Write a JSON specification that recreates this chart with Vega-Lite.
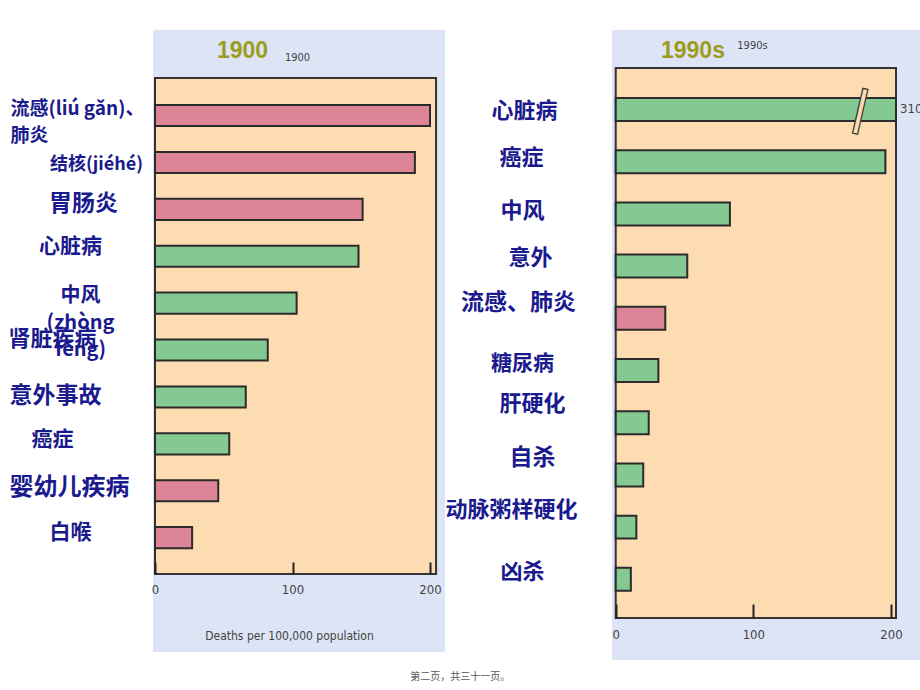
{
  "$schema": "https://vega.github.io/schema/vega-lite/v6.json",
  "autosize": {"type": "pad"},
  "padding": {"left": 7, "top": 30, "right": 0, "bottom": 0},
  "background": "white",
  "datasets": {
    "y1900": [
      {"cause": "流感(liú gǎn)、\n肺炎", "deaths": 200, "kind": "传染病"},
      {"cause": "结核(jiéhé)", "deaths": 189, "kind": "传染病"},
      {"cause": "胃肠炎", "deaths": 151, "kind": "传染病"},
      {"cause": "心脏病", "deaths": 148, "kind": "非传染病"},
      {"cause": "中风\n(zhòng\nfēng)", "deaths": 103, "kind": "非传染病"},
      {"cause": "肾脏疾病", "deaths": 82, "kind": "非传染病"},
      {"cause": "意外事故", "deaths": 66, "kind": "非传染病"},
      {"cause": "癌症", "deaths": 54, "kind": "非传染病"},
      {"cause": "婴幼儿疾病", "deaths": 46, "kind": "传染病"},
      {"cause": "白喉", "deaths": 27, "kind": "传染病"}
    ],
    "y1990s": [
      {"cause": "心脏病", "deaths": 310, "kind": "非传染病"},
      {"cause": "癌症", "deaths": 196, "kind": "非传染病"},
      {"cause": "中风", "deaths": 83, "kind": "非传染病"},
      {"cause": "意外", "deaths": 52, "kind": "非传染病"},
      {"cause": "流感、肺炎", "deaths": 36, "kind": "传染病"},
      {"cause": "糖尿病", "deaths": 31, "kind": "非传染病"},
      {"cause": "肝硬化", "deaths": 24, "kind": "非传染病"},
      {"cause": "自杀", "deaths": 20, "kind": "非传染病"},
      {"cause": "动脉粥样硬化", "deaths": 15, "kind": "非传染病"},
      {"cause": "凶杀", "deaths": 11, "kind": "非传染病"}
    ]
  },
  "title": {"text": "第二页，共三十一页。", "orient": "bottom", "anchor": "middle", "offset": 12, "dx": -5, "fontSize": 10, "fontWeight": "normal", "color": "#555555", "font": "Noto Sans CJK SC"},
  "spacing": 167,
  "bounds": "flush",
  "hconcat": [
    {
      "width": 292,
      "height": 622,
      "title": {"text": "1900", "frame": "group", "anchor": "start", "dx": 64, "offset": -33, "fontSize": 23, "fontWeight": "bold", "color": "#9C9C22", "font": "Liberation Sans"},
      "layer": [
        {
          "data": {"values": [{}]},
          "mark": {"type": "rect", "fill": "#FDDCB2", "stroke": "#333333", "strokeWidth": 2},
          "encoding": {
            "x": {"datum": 0, "type": "quantitative", "scale": {"domain": [-1.45, 210.9], "nice": false, "zero": false},
              "axis": {"orient": "top", "labels": false, "ticks": false, "domain": false, "grid": false, "title": "1900", "titleFont": "DejaVu Sans Condensed, Liberation Sans, sans-serif", "titleFontSize": 11, "titleFontWeight": "normal", "titleColor": "#444444", "titleX": 144, "titleY": 27, "titleBaseline": "middle", "titleAlign": "center"}},
            "x2": {"datum": 204.4},
            "y": {"datum": 0, "type": "quantitative", "scale": {"domain": [-0.1573, 1.0968], "nice": false, "zero": false}, "axis": null},
            "y2": {"datum": 1}
          }
        },
        {
          "data": {"name": "y1900"},
          "mark": {"type": "bar", "stroke": "#2b2b2b", "strokeWidth": 2},
          "encoding": {
            "y": {"field": "cause", "type": "nominal", "sort": null,
              "scale": {"paddingInner": 0.55, "paddingOuter": 0, "range": [75, 518.2]},
              "axis": {"orient": "left", "domain": false, "ticks": false, "grid": false, "title": null, "labelOverlap": false, "labelLimit": 300,
                "labelExpr": "split(datum.label, '\\n')",
                "labelFont": "Noto Sans CJK SC", "labelFontWeight": "bold", "labelColor": "#1A1A8E", "labelLineHeight": 27,
                "labelAlign": {"condition": {"test": "indexof(datum.value, '流感') >= 0", "value": "left"}, "value": "center"},
                "labelFontSize": {"condition": [
                  {"test": "indexof(datum.value, '流感') >= 0", "value": 19},
                  {"test": "indexof(datum.value, '结核') >= 0", "value": 18},
                  {"test": "datum.value === '胃肠炎'", "value": 23},
                  {"test": "indexof(datum.value, '中风') >= 0", "value": 20},
                  {"test": "datum.value === '肾脏疾病'", "value": 22},
                  {"test": "datum.value === '意外事故'", "value": 23},
                  {"test": "datum.value === '婴幼儿疾病'", "value": 24}
                ], "value": 21},
                "labelPadding": {"condition": [
                  {"test": "indexof(datum.value, '流感') >= 0", "value": 143},
                  {"test": "indexof(datum.value, '结核') >= 0", "value": 57},
                  {"test": "datum.value === '胃肠炎'", "value": 70},
                  {"test": "indexof(datum.value, '中风') >= 0", "value": 73},
                  {"test": "datum.value === '肾脏疾病'", "value": 101},
                  {"test": "datum.value === '意外事故'", "value": 98},
                  {"test": "datum.value === '癌症'", "value": 101},
                  {"test": "datum.value === '婴幼儿疾病'", "value": 84}
                ], "value": 83},
                "labelOffset": {"condition": [
                  {"test": "indexof(datum.value, '流感') >= 0", "value": -7},
                  {"test": "indexof(datum.value, '结核') >= 0", "value": 3},
                  {"test": "datum.value === '胃肠炎'", "value": -5},
                  {"test": "datum.value === '心脏病'", "value": -9},
                  {"test": "indexof(datum.value, '中风') >= 0", "value": -7},
                  {"test": "datum.value === '肾脏疾病'", "value": -11},
                  {"test": "datum.value === '意外事故'", "value": -1},
                  {"test": "datum.value === '癌症'", "value": -4},
                  {"test": "datum.value === '婴幼儿疾病'", "value": -3}
                ], "value": -5}
              }},
            "x": {"field": "deaths", "type": "quantitative", "scale": {"domain": [-1.45, 210.9], "nice": false, "zero": false},
              "axis": {"orient": "bottom", "zindex": 1, "offset": -90, "values": [0, 100, 200], "domain": false, "grid": false, "tickSize": 12, "tickWidth": 2, "tickColor": "#222222", "labelPadding": 9, "labelFlush": false, "labelFont": "DejaVu Sans Condensed, Liberation Sans, sans-serif", "labelFontSize": 13, "labelColor": "#444444",
                "title": "Deaths per 100,000 population", "titleFont": "DejaVu Sans Condensed, Liberation Sans, sans-serif", "titleFontSize": 12, "titleFontWeight": "normal", "titleColor": "#444444", "titleX": 136, "titleY": 73, "titleBaseline": "middle", "titleAlign": "center"}},
            "color": {"field": "kind", "type": "nominal", "scale": {"domain": ["传染病", "非传染病"], "range": ["#DD8496", "#84C892"]}, "legend": null}
          }
        }
      ],
      "resolve": {"scale": {"x": "independent", "y": "independent"}}
    },
    {
      "width": 308,
      "height": 630,
      "title": {"text": "1990s", "frame": "group", "anchor": "start", "dx": 49, "offset": -33, "fontSize": 23, "fontWeight": "bold", "color": "#9C9C22", "font": "Liberation Sans"},
      "layer": [
        {
          "data": {"values": [{}]},
          "mark": {"type": "rect", "fill": "#FDDCB2", "stroke": "#333333", "strokeWidth": 2},
          "encoding": {
            "x": {"datum": 0, "type": "quantitative", "scale": {"domain": [-2.7, 203.7], "range": [0, 284], "nice": false, "zero": false},
              "axis": {"orient": "top", "labels": false, "ticks": false, "domain": false, "grid": false, "title": "1990s", "titleFont": "DejaVu Sans Condensed, Liberation Sans, sans-serif", "titleFontSize": 11, "titleFontWeight": "normal", "titleColor": "#444444", "titleX": 140, "titleY": 15, "titleBaseline": "middle", "titleAlign": "center"}},
            "x2": {"datum": 203.7},
            "y": {"datum": 0, "type": "quantitative", "scale": {"domain": [-0.0764, 1.0691], "nice": false, "zero": false}, "axis": null},
            "y2": {"datum": 1}
          }
        },
        {
          "data": {"name": "y1990s"},
          "encoding": {
            "y": {"field": "cause", "type": "nominal", "sort": null,
              "scale": {"paddingInner": 0.56, "paddingOuter": 0, "range": [68, 560.8]},
              "axis": {"orient": "left", "domain": false, "ticks": false, "grid": false, "title": null, "labelOverlap": false, "labelLimit": 300,
                "labelFont": "Noto Sans CJK SC", "labelFontWeight": "bold", "labelColor": "#1A1A8E", "labelAlign": "center",
                "labelFontSize": {"condition": [
                  {"test": "datum.value === '流感、肺炎'", "value": 23},
                  {"test": "datum.value === '糖尿病'", "value": 21},
                  {"test": "datum.value === '自杀'", "value": 23}
                ], "value": 22},
                "labelPadding": {"condition": [
                  {"test": "datum.value === '心脏病'", "value": 88},
                  {"test": "datum.value === '癌症'", "value": 91},
                  {"test": "datum.value === '意外'", "value": 82},
                  {"test": "datum.value === '流感、肺炎'", "value": 94},
                  {"test": "datum.value === '肝硬化'", "value": 80},
                  {"test": "datum.value === '自杀'", "value": 80},
                  {"test": "datum.value === '动脉粥样硬化'", "value": 101}
                ], "value": 90},
                "labelOffset": {"condition": [
                  {"test": "datum.value === '心脏病'", "value": 2},
                  {"test": "datum.value === '癌症'", "value": -4},
                  {"test": "datum.value === '中风'", "value": -3},
                  {"test": "datum.value === '意外'", "value": -8},
                  {"test": "datum.value === '流感、肺炎'", "value": -15},
                  {"test": "datum.value === '肝硬化'", "value": -19},
                  {"test": "datum.value === '自杀'", "value": -17},
                  {"test": "datum.value === '动脉粥样硬化'", "value": -17}
                ], "value": -7}
              }},
            "x": {"field": "deaths", "type": "quantitative", "scale": {"domain": [-2.7, 203.7], "range": [0, 284], "clamp": true, "nice": false, "zero": false},
              "axis": {"orient": "bottom", "zindex": 1, "offset": -56, "values": [0, 100, 200], "domain": false, "grid": false, "tickSize": 14, "tickWidth": 2, "tickColor": "#222222", "labelPadding": 10, "labelFlush": false, "labelFont": "DejaVu Sans Condensed, Liberation Sans, sans-serif", "labelFontSize": 13, "labelColor": "#444444", "title": null}}
          },
          "layer": [
            {
              "mark": {"type": "bar", "stroke": "#2b2b2b", "strokeWidth": 2},
              "encoding": {
                "color": {"field": "kind", "type": "nominal", "scale": {"domain": ["传染病", "非传染病"], "range": ["#DD8496", "#84C892"]}, "legend": null}
              }
            },
            {
              "mark": {"type": "text", "font": "DejaVu Sans", "fontWeight": "bold", "fontSize": 46, "fill": "#FDDCB2", "stroke": "#333333", "strokeWidth": 1.2, "angle": 13, "align": "center", "baseline": "middle"},
              "encoding": {
                "x": {"datum": 178},
                "text": {"condition": {"test": "datum.deaths > 250", "value": "|"}, "value": ""}
              }
            },
            {
              "mark": {"type": "text", "font": "DejaVu Sans Condensed, Liberation Sans, sans-serif", "fontSize": 13, "color": "#444444", "align": "left", "baseline": "middle", "dx": 4},
              "encoding": {
                "text": {"condition": {"test": "datum.deaths > 250", "field": "deaths"}, "value": ""}
              }
            }
          ]
        }
      ],
      "resolve": {"scale": {"x": "independent", "y": "independent"}}
    }
  ],
  "config": {
    "view": {"fill": "#DCE4F5", "stroke": null},
    "axis": {"grid": false}
  }
}
